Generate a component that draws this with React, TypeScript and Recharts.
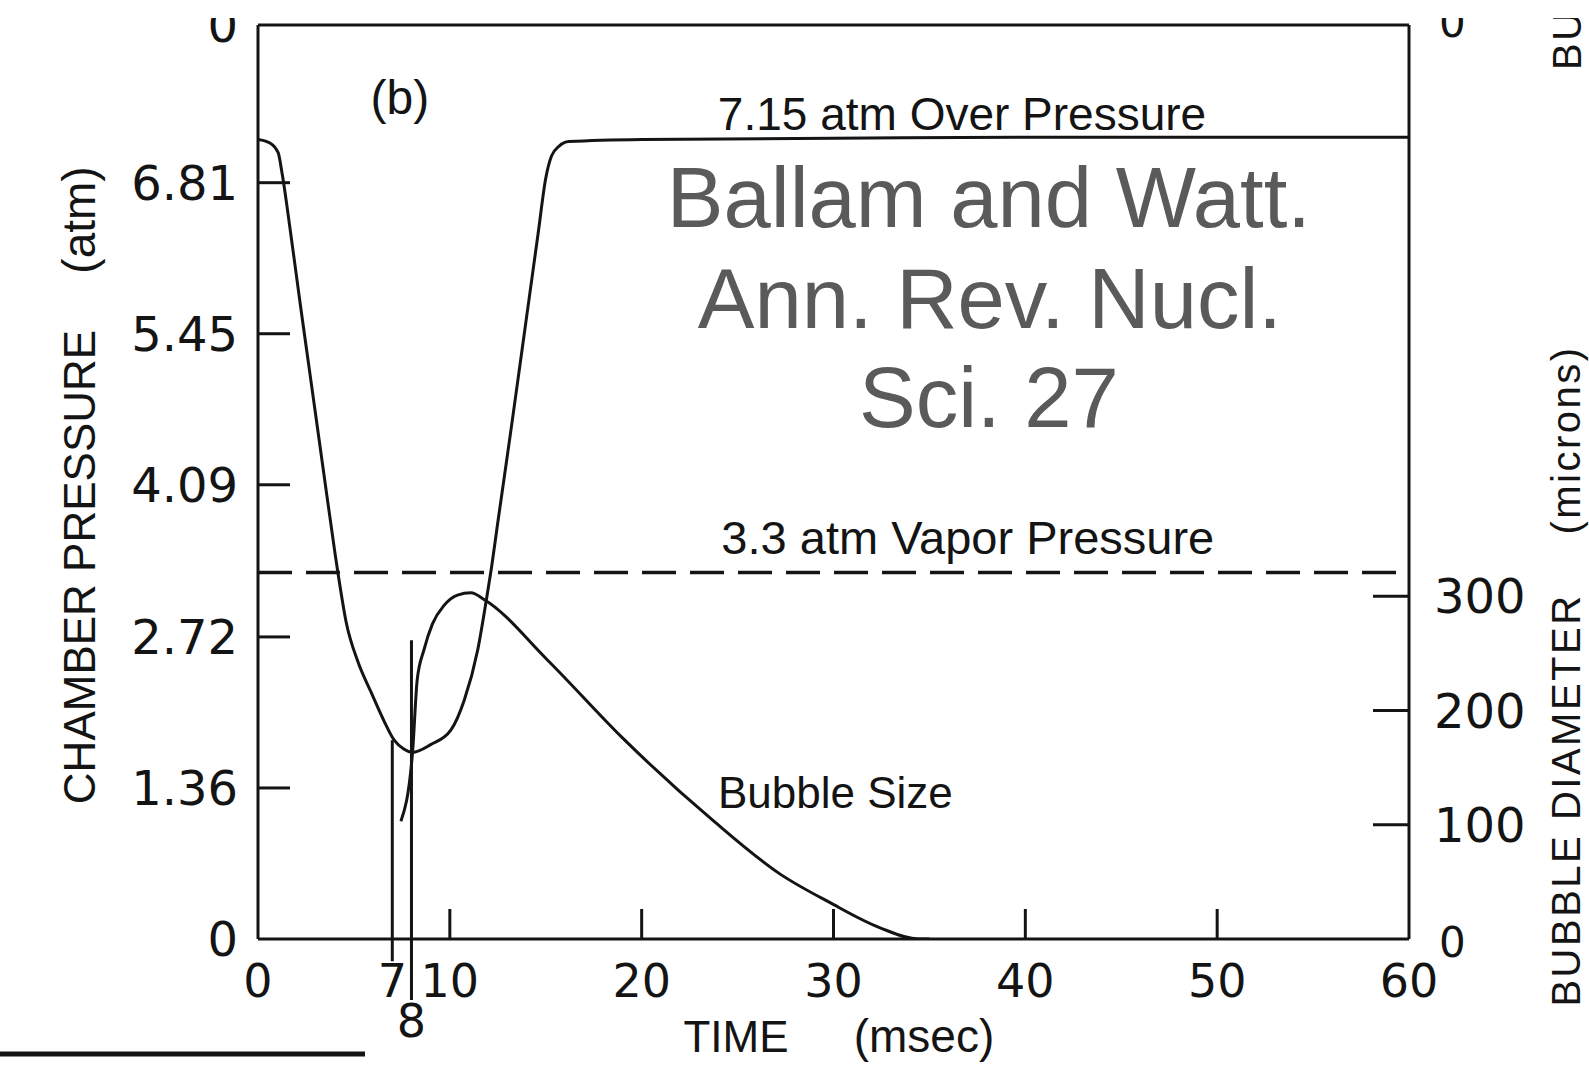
import React from 'react';
import { LineChart, Line, XAxis, YAxis, ReferenceLine, ReferenceDot } from 'recharts';

// chamber pressure (atm) against time (msec)
const pressureTime = [0, 0.6, 1.05, 1.25, 1.7, 2.2, 2.7, 3.4, 4.0, 4.2, 4.6, 5.2, 5.9, 6.55, 7.1, 7.6, 8.05, 9.0, 10.05, 10.75, 11.45, 11.9, 12.15, 12.5, 13.2, 14.0, 14.6, 15.0, 15.3, 15.7, 16.2, 20, 30, 40, 50, 60];
const pressureAtm = [7.2, 7.17, 7.08, 6.9, 6.36, 5.72, 5.1, 4.23, 3.49, 3.26, 2.85, 2.5, 2.22, 1.97, 1.79, 1.71, 1.68, 1.75, 1.88, 2.15, 2.6, 3.05, 3.32, 3.75, 4.6, 5.6, 6.35, 6.85, 7.05, 7.14, 7.18, 7.2, 7.21, 7.22, 7.22, 7.22];

// bubble diameter (microns) against time (msec)
const bubbleTime = [7.45, 8.05, 8.3, 8.65, 9.1, 9.7, 10.4, 11.1, 11.8, 15.1, 19.0, 23.7, 27.2, 29.8, 32.4, 34.4, 35];
const bubbleMicrons = [103, 162, 227, 253, 276, 292, 301, 303, 297, 244, 176, 104, 57, 32, 10, 0, 0];

const timeTicks = [0, 7, 8, 10, 20, 30, 40, 50, 60];
const pressureTicks = [0, 1.36, 2.72, 4.09, 5.45, 6.81, 8.23];
const pressureTickLabels = ['0', '1.36', '2.72', '4.09', '5.45', '6.81', '0'];
const diameterTicks = [0, 100, 200, 300, 800];
const diameterTickLabels = ['0', '100', '200', '300', '0'];

const overPressure = 7.15;
const vaporPressure = 3.3;
const markerTimes = [7, 8];
const markerTops = [1.79, 2.69];
const markerBottoms = [-0.2, -0.55];

const pressureData = pressureTime.map((t, i) => ({ t, p: pressureAtm[i] }));
const bubbleData = bubbleTime.map((t, i) => ({ t, d: bubbleMicrons[i] }));

const INK = '#141414';
const tickFont = 'DejaVu Sans, sans-serif';
const textFont = 'Liberation Sans, Arial, sans-serif';

const TimeTick = (props: any) => {
  const { x, y, payload } = props;
  const v = payload.value;
  const mark = v > 8 && v < 60;
  return (
    <g>
      {mark && <line x1={x} x2={x} y1={y} y2={y - 30} stroke={INK} strokeWidth={3} />}
      <text x={x} y={y + (v === 8 ? 82 : 42)} textAnchor="middle" dominantBaseline="central"
        fontFamily={tickFont} fontSize={46} fill={INK}>{v}</text>
    </g>
  );
};

const PressureTick = (props: any) => {
  const { x, y, index } = props;
  const mark = index > 0 && index < pressureTicks.length - 1;
  return (
    <g>
      {mark && <line x1={x} x2={x + 32} y1={y} y2={y} stroke={INK} strokeWidth={3} />}
      <text x={x - 20} y={y} textAnchor="end" dominantBaseline="central"
        fontFamily={tickFont} fontSize={48} fill={INK}>{pressureTickLabels[index]}</text>
    </g>
  );
};

const DiameterTick = (props: any) => {
  const { x, y, index } = props;
  const zero = diameterTickLabels[index] === '0';
  const top = index === diameterTicks.length - 1;
  return (
    <g>
      {!zero && <line x1={x - 36} x2={x} y1={y} y2={y} stroke={INK} strokeWidth={3} />}
      <text x={x + (zero ? 30 : 25)} y={y + (top ? -3 : zero ? 3 : 0)} textAnchor="start" dominantBaseline="central"
        fontFamily={tickFont} fontSize={zero ? 42 : 48} fill={INK}>{diameterTickLabels[index]}</text>
    </g>
  );
};

const note = (value: string, size: number, fill = INK, family = textFont) => ({
  value, position: 'center' as const, fontSize: size, fill, fontFamily: family,
});

export default function App() {
  return (
    <div style={{ position: 'absolute', left: 0, top: 0, width: 1589, height: 1068, background: '#fff', overflow: 'hidden' }}>
      <LineChart width={1589} height={1068} margin={{ top: 25, right: 120, bottom: 69, left: 198 }}>
        <XAxis dataKey="t" type="number" domain={[0, 60]} ticks={timeTicks} interval={0} height={60}
          tickSize={0} tickMargin={0} tickLine={false} tick={<TimeTick />}
          axisLine={{ stroke: INK, strokeWidth: 3 }} allowDataOverflow />
        <YAxis yAxisId="left" type="number" domain={[0, 8.23]} ticks={pressureTicks} interval={0} width={60}
          tickSize={0} tickMargin={0} tickLine={false} tick={<PressureTick />}
          axisLine={{ stroke: INK, strokeWidth: 3 }} allowDataOverflow />
        <YAxis yAxisId="right" orientation="right" type="number" domain={[0, 800]} ticks={diameterTicks} interval={0} width={60}
          tickSize={0} tickMargin={0} tickLine={false} tick={<DiameterTick />}
          axisLine={{ stroke: INK, strokeWidth: 3 }} allowDataOverflow />

        <ReferenceLine yAxisId="left" y={8.23} stroke={INK} strokeWidth={3} />
        <ReferenceLine yAxisId="left" y={vaporPressure} stroke={INK} strokeWidth={3.5} strokeDasharray="34 14" />
        {markerTimes.map((t, i) => (
          <ReferenceLine key={t} yAxisId="left" ifOverflow="visible" stroke={INK} strokeWidth={3}
            segment={[{ x: t, y: markerBottoms[i] }, { x: t, y: markerTops[i] }]} />
        ))}

        <Line yAxisId="left" data={pressureData} dataKey="p" type="monotoneX" dot={false}
          stroke={INK} strokeWidth={3} isAnimationActive={false} />
        <Line yAxisId="right" data={bubbleData} dataKey="d" type="monotoneX" dot={false}
          stroke={INK} strokeWidth={3} isAnimationActive={false} />

        <ReferenceDot yAxisId="left" x={7.4} y={7.58} r={1} fill="none" stroke="none" label={note('(b)', 48)} />
        <ReferenceDot yAxisId="left" x={36.7} y={overPressure + 0.28} r={1} fill="none" stroke="none"
          label={note(`${overPressure} atm Over Pressure`, 46)} />
        <ReferenceDot yAxisId="left" x={37} y={vaporPressure + 0.32} r={1} fill="none" stroke="none"
          label={note(`${vaporPressure} atm Vapor Pressure`, 47)} />
        <ReferenceDot yAxisId="right" x={30.1} y={128} r={1} fill="none" stroke="none" label={note('Bubble Size', 44)} />

        <ReferenceDot yAxisId="left" x={38.1} y={6.68} r={1} fill="none" stroke="none" label={note('Ballam and Watt.', 85, '#5a5a5a')} />
        <ReferenceDot yAxisId="left" x={38.15} y={5.77} r={1} fill="none" stroke="none" label={note('Ann. Rev. Nucl.', 85, '#5a5a5a')} />
        <ReferenceDot yAxisId="left" x={38.1} y={4.88} r={1} fill="none" stroke="none" label={note('Sci. 27', 85, '#5a5a5a')} />

        <g fontFamily={textFont} fill={INK} fontSize={44}>
          <text x={79} y={567} transform="rotate(-90 79 567)" textAnchor="middle" dominantBaseline="central">CHAMBER PRESSURE</text>
          <text x={79} y={220} transform="rotate(-90 79 220)" fontSize={46} textAnchor="middle" dominantBaseline="central">(atm)</text>
        </g>
        <g fontFamily={textFont} fill={INK} fontSize={40} letterSpacing={2.5}>
          <text x={1566} y={800} transform="rotate(-90 1566 800)" textAnchor="middle" dominantBaseline="central">BUBBLE DIAMETER</text>
          <text x={1566} y={440} transform="rotate(-90 1566 440)" textAnchor="middle" dominantBaseline="central">(microns)</text>
          <text x={1567} y={70} transform="rotate(-90 1567 70)" textAnchor="start" dominantBaseline="central">BUBBLE DIAMETER</text>
        </g>
        <g fontFamily={textFont} fill={INK} fontSize={44}>
          <text x={736} y={1036} textAnchor="middle" dominantBaseline="central">TIME</text>
          <text x={924} y={1036} fontSize={46} textAnchor="middle" dominantBaseline="central">(msec)</text>
        </g>
        <line x1={0} x2={365} y1={1054} y2={1054} stroke={INK} strokeWidth={5} />
      </LineChart>
      <div style={{ position: 'absolute', left: 0, top: 0, width: 1589, height: 18, background: '#fff' }} />
    </div>
  );
}
